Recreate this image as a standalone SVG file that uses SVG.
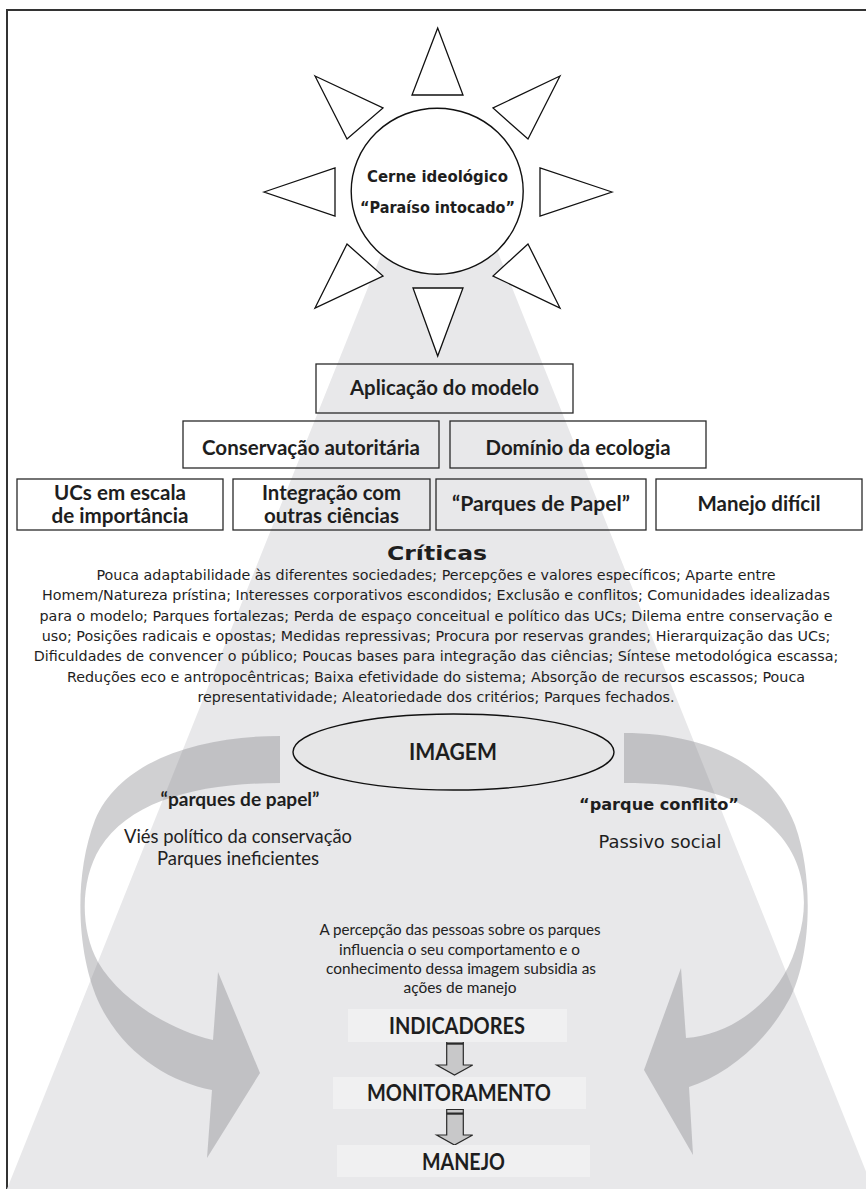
<svg xmlns="http://www.w3.org/2000/svg" width="866" height="1189" viewBox="0 0 866 1189">
<style>
.frame{stroke:#333;stroke-width:2;fill:none}
.tri{fill:#fff;stroke:#111;stroke-width:1.3;stroke-linejoin:miter}
.box{fill:none;stroke:#2a2a2a;stroke-width:1.3}
.lbox{fill:#f0f0f1;stroke:none}
.cb{font-family:Lato,"Liberation Sans",sans-serif;font-weight:bold;fill:#1e1e1e;text-anchor:middle}
.cr{font-family:Lato,"Liberation Sans",sans-serif;fill:#222;text-anchor:middle}
.cs{font-family:"DejaVu Sans","Liberation Sans",sans-serif;fill:#1e1e1e;text-anchor:middle}
.csb{font-family:"DejaVu Sans","Liberation Sans",sans-serif;font-weight:bold;fill:#1e1e1e;text-anchor:middle}
.band{fill:#7c7d82;fill-opacity:0.36;stroke:none}
.darr{fill:#c8c8c9;stroke:#2a2a2a;stroke-width:1.2}
</style>
<rect x="0" y="0" width="866" height="1189" fill="#fff"/>
<path class="frame" d="M7,1189 V10 H866"/>
<polygon id="beam" points="391,230 489,230 873,1189 7,1189" fill="#e8e8ea"/>

<g id="sun">
<polygon class="tri" points="437.7,28 412,95 463,95"/>
<polygon class="tri" points="413,288 463,288 437.7,356"/>
<polygon class="tri" points="264,192 335,168 335,216"/>
<polygon class="tri" points="612,192 540,168 540,216"/>
<polygon class="tri" points="315,76 383,108 347,139"/>
<polygon class="tri" points="560,76 493,108 528,139"/>
<polygon class="tri" points="347,244 383,276 315,308"/>
<polygon class="tri" points="528,244 493,276 560,308"/>
<ellipse cx="437.2" cy="191.2" rx="86" ry="83" fill="#fff" stroke="#111" stroke-width="1.4"/>
<text class="csb" x="437.5" y="182" font-size="15" textLength="141" lengthAdjust="spacingAndGlyphs">Cerne ideológico</text>
<text class="csb" x="437.5" y="213" font-size="15" textLength="155" lengthAdjust="spacingAndGlyphs">“Paraíso intocado”</text>
</g>

<g id="aplicacao">
<rect class="box" x="316" y="364" width="257" height="49"/>
<text class="cb" x="444.5" y="395" font-size="20" textLength="189" lengthAdjust="spacingAndGlyphs">Aplicação do modelo</text>
</g>
<g id="conservacao">
<rect class="box" x="183" y="421" width="256" height="47"/>
<text class="cb" x="311" y="455" font-size="20" textLength="218" lengthAdjust="spacingAndGlyphs">Conservação autoritária</text>
</g>
<g id="dominio">
<rect class="box" x="450" y="421" width="256" height="47"/>
<text class="cb" x="578" y="455" font-size="20" textLength="185" lengthAdjust="spacingAndGlyphs">Domínio da ecologia</text>
</g>
<g id="ucs">
<rect class="box" x="17" y="479" width="206" height="51"/>
<text class="cb" x="120" y="500" font-size="20" textLength="132" lengthAdjust="spacingAndGlyphs">UCs em escala</text>
<text class="cb" x="120" y="523" font-size="20" textLength="137" lengthAdjust="spacingAndGlyphs">de importância</text>
</g>
<g id="integracao">
<rect class="box" x="233" y="479" width="197" height="51"/>
<text class="cb" x="331.5" y="500" font-size="20" textLength="139" lengthAdjust="spacingAndGlyphs">Integração com</text>
<text class="cb" x="331.5" y="523" font-size="20" textLength="135" lengthAdjust="spacingAndGlyphs">outras ciências</text>
</g>
<g id="parques-papel">
<rect class="box" x="436" y="479" width="210" height="51"/>
<text class="cb" x="541" y="511" font-size="20" textLength="178" lengthAdjust="spacingAndGlyphs">“Parques de Papel”</text>
</g>
<g id="manejo-dificil">
<rect class="box" x="656" y="479" width="206" height="51"/>
<text class="cb" x="759" y="511" font-size="20" textLength="123" lengthAdjust="spacingAndGlyphs">Manejo difícil</text>
</g>

<g id="criticas">
<text class="csb" x="437" y="560" font-size="20" textLength="100" lengthAdjust="spacingAndGlyphs">Críticas</text>
<text class="cs" x="436" y="580" font-size="14.3">Pouca adaptabilidade às diferentes sociedades; Percepções e valores específicos; Aparte entre</text>
<text class="cs" x="436" y="600" font-size="14.3">Homem/Natureza prístina; Interesses corporativos escondidos; Exclusão e conflitos; Comunidades idealizadas</text>
<text class="cs" x="436" y="621" font-size="14.3">para o modelo; Parques fortalezas; Perda de espaço conceitual e político das UCs; Dilema entre conservação e</text>
<text class="cs" x="436" y="641" font-size="14.3">uso; Posições radicais e opostas; Medidas repressivas; Procura por reservas grandes; Hierarquização das UCs;</text>
<text class="cs" x="436" y="661" font-size="14.3">Dificuldades de convencer o público; Poucas bases para integração das ciências; Síntese metodológica escassa;</text>
<text class="cs" x="436" y="682" font-size="14.3">Reduções eco e antropocêntricas; Baixa efetividade do sistema; Absorção de recursos escassos; Pouca</text>
<text class="cs" x="436" y="702" font-size="14.3">representatividade; Aleatoriedade dos critérios; Parques fechados.</text>
</g>

<g id="connectors">
<path id="loop-left" class="band" d="M280,736 C200,736 120,760 95,820 C72,880 78,960 100,1005 C125,1055 170,1082 212,1090 L207,1158 L260,1073 L218,972 L213,1040 C170,1030 120,1000 98,962 C80,930 80,880 100,848 C130,800 200,783 280,783 Z"/>
<path id="loop-right" class="band" d="M624,733 C700,733 770,760 795,825 C815,880 810,960 790,998 C765,1045 725,1075 689,1087 L693,1155 L644,1070 L681,968 L686,1038 C735,1035 785,995 798,940 C812,895 800,855 775,830 C740,793 690,783 624,783 Z"/>
<g id="arrow-ind-mon">
<path class="darr" d="M446.7,1037 H463.3 V1065 H472.7 L454.5,1075 L436.7,1065 H446.7 Z"/>
<rect x="446.7" y="1036.7" width="16.6" height="3.3" fill="#2a2a2a"/>
<rect x="446.7" y="1042.5" width="16.6" height="2.2" fill="#2a2a2a"/>
</g>
<g id="arrow-mon-man">
<path class="darr" d="M446.7,1107 H463.3 V1135 H472.7 L454.5,1145 L436.7,1135 H446.7 Z"/>
<rect x="446.7" y="1106.7" width="16.6" height="3.3" fill="#2a2a2a"/>
<rect x="446.7" y="1112.5" width="16.6" height="2.2" fill="#2a2a2a"/>
</g>
</g>

<g id="imagem">
<ellipse cx="453.5" cy="752" rx="160.5" ry="38" fill="#e6e6e7" stroke="#111" stroke-width="1.4"/>
<text class="cb" x="453" y="760" font-size="22" textLength="88" lengthAdjust="spacingAndGlyphs">IMAGEM</text>
</g>

<g id="label-papel">
<text class="cb" x="240" y="806" font-size="19" textLength="159" lengthAdjust="spacingAndGlyphs">“parques de papel”</text>
<text class="cr" x="238" y="843" font-size="19" textLength="228" lengthAdjust="spacingAndGlyphs">Viés político da conservação</text>
<text class="cr" x="238" y="865" font-size="19" textLength="162" lengthAdjust="spacingAndGlyphs">Parques ineficientes</text>
</g>

<g id="label-conflito">
<text class="csb" x="659" y="810" font-size="16.5" textLength="160" lengthAdjust="spacingAndGlyphs">“parque conflito”</text>
<text class="cs" x="660" y="848" font-size="18" textLength="123" lengthAdjust="spacingAndGlyphs">Passivo social</text>
</g>

<g id="paragraph">
<text class="cr" x="460" y="935" font-size="15" textLength="281" lengthAdjust="spacingAndGlyphs">A percepção das pessoas sobre os parques</text>
<text class="cr" x="459.5" y="955" font-size="15" textLength="241" lengthAdjust="spacingAndGlyphs">influencia o seu comportamento e o</text>
<text class="cr" x="461" y="974" font-size="15" textLength="270" lengthAdjust="spacingAndGlyphs">conhecimento dessa imagem subsidia as</text>
<text class="cr" x="460" y="993" font-size="15" textLength="113" lengthAdjust="spacingAndGlyphs">ações de manejo</text>
</g>

<g id="indicadores">
<rect class="lbox" x="348" y="1009" width="219" height="33"/>
<text class="cb" x="457" y="1034" font-size="22" textLength="136" lengthAdjust="spacingAndGlyphs">INDICADORES</text>
</g>
<g id="monitoramento">
<rect class="lbox" x="333" y="1077" width="253" height="32"/>
<text class="cb" x="459" y="1101" font-size="22" textLength="184" lengthAdjust="spacingAndGlyphs">MONITORAMENTO</text>
</g>
<g id="manejo">
<rect class="lbox" x="337" y="1145" width="253" height="32"/>
<text class="cb" x="463.5" y="1170" font-size="22" textLength="83" lengthAdjust="spacingAndGlyphs">MANEJO</text>
</g>
</svg>
